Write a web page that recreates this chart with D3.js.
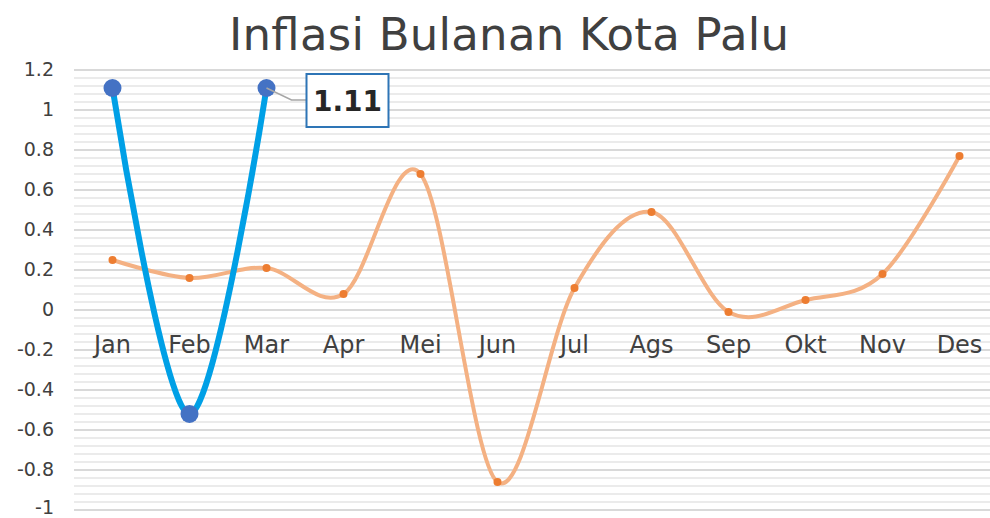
<!DOCTYPE html>
<html><head><meta charset="utf-8">
<script src="https://cdn.jsdelivr.net/npm/d3@7"></script>
<style>body{margin:0;background:#fff;}svg{display:block;}</style>
</head><body>
<svg id="c" width="990" height="518"></svg>
<script>
const months = ["Jan","Feb","Mar","Apr","Mei","Jun","Jul","Ags","Sep","Okt","Nov","Des"];
const series2 = [0.25,0.16,0.21,0.08,0.68,-0.86,0.11,0.49,-0.01,0.05,0.18,0.77];
const series1 = [1.11,-0.52,1.11];
const yTicks = [1.2,1,0.8,0.6,0.4,0.2,0,-0.2,-0.4,-0.6,-0.8,-1];
const title = "Inflasi Bulanan Kota Palu";
const labelValue = "1.11";

(function(){
const svg = d3.select("#c");
const font = "'DejaVu Sans', sans-serif";
const pLeft = 74, pRight = 998, pTop = 70, pBottom = 510;
const x = d3.scaleBand().domain(months).range([pLeft, pRight]);
const cx = m => x(m) + x.bandwidth()/2;
const y = d3.scaleLinear().domain([-1, 1.2]).range([pBottom, pTop]);

// minor grid
const minor = d3.range(-1, 1.2001, 0.04).filter(v => Math.abs(Math.round(v*5) - v*5) > 0.01);
svg.append("g").selectAll("line").data(minor).join("line")
  .attr("x1", pLeft).attr("x2", 990).attr("y1", d => y(d)).attr("y2", d => y(d))
  .attr("stroke", "#EBEBEB").attr("stroke-width", 2);
svg.append("g").selectAll("line").data(yTicks).join("line")
  .attr("x1", pLeft).attr("x2", 990).attr("y1", d => y(d)).attr("y2", d => y(d))
  .attr("stroke", "#D9D9D9").attr("stroke-width", 2);

// y tick labels
svg.append("g").selectAll("text").data(yTicks).join("text")
  .attr("x", 54).attr("y", d => y(d)).attr("dy", d => d === -1 ? "0.2em" : "0.33em")
  .attr("text-anchor", "end").attr("font-family", font).attr("font-size", 19)
  .attr("fill", "#404040").text(d => String(d));

// category labels
svg.append("g").selectAll("text").data(months).join("text")
  .attr("x", d => cx(d)).attr("y", 353)
  .attr("text-anchor", "middle").attr("font-family", font).attr("font-size", 24)
  .attr("fill", "#404040").text(d => d);

// title
svg.append("text").attr("x", 509).attr("y", 50).attr("text-anchor", "middle")
  .attr("font-family", font).attr("font-size", 45).attr("fill", "#404040")
  .attr("textLength", 560).attr("lengthAdjust", "spacing").text(title);

const curve = d3.curveCardinal.tension(0);
const line2 = d3.line().x((d,i) => cx(months[i])).y(d => y(d)).curve(curve);
svg.append("path").attr("d", line2(series2)).attr("fill", "none")
  .attr("stroke", "#F4B183").attr("stroke-width", 4);
svg.append("g").selectAll("circle").data(series2).join("circle")
  .attr("cx", (d,i) => cx(months[i])).attr("cy", d => y(d)).attr("r", 4)
  .attr("fill", "#ED7D31");

const line1 = d3.line().x((d,i) => cx(months[i])).y(d => y(d)).curve(curve);
svg.append("path").attr("d", line1(series1)).attr("fill", "none")
  .attr("stroke", "#00A0E6").attr("stroke-width", 6);
svg.append("g").selectAll("circle").data(series1).join("circle")
  .attr("cx", (d,i) => cx(months[i])).attr("cy", d => y(d)).attr("r", 9)
  .attr("fill", "#4472C4");

const lx = cx(months[2]), ly = y(series1[2]);
svg.append("polyline").attr("points", `${lx},${ly} ${lx+25},${ly+12} ${lx+40},${ly+12}`)
  .attr("fill", "none").attr("stroke", "#A6A6A6").attr("stroke-width", 1.5);
svg.append("rect").attr("x", lx+40).attr("y", ly-14).attr("width", 82).attr("height", 53)
  .attr("fill", "#fff").attr("stroke", "#2E75B6").attr("stroke-width", 2);
svg.append("text").attr("x", lx+81).attr("y", ly+13).attr("dy", "0.35em").attr("text-anchor", "middle")
  .attr("font-family", font).attr("font-weight", "bold").attr("font-size", 28)
  .attr("fill", "#262626").text(labelValue);
})();
</script>
</body></html>
